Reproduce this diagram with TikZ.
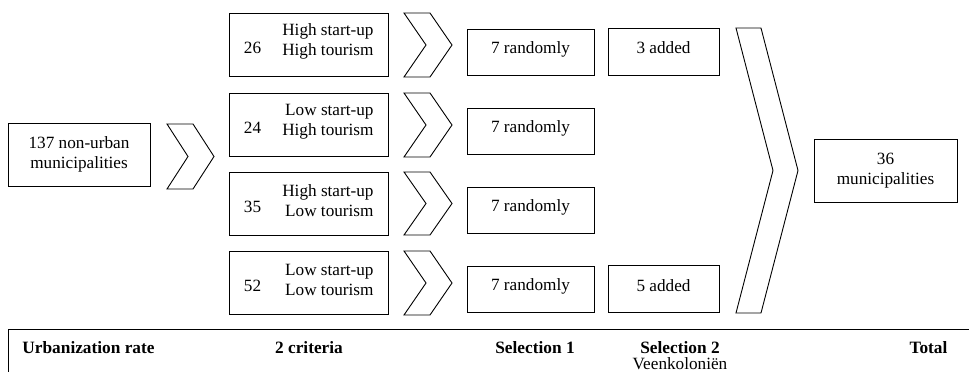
\documentclass[tikz,border=0pt]{standalone}
\usepackage{fontspec}
\setmainfont{Liberation Serif}
\newfontfamily\serifmain{Liberation Serif}
\newcommand\chevshape[5]{\draw[chev] (#1,#2) -- (#1+#4,#2) -- ({#1+#4+#5},{(#2+#3)/2}) -- (#1+#4,#3) -- (#1,#3) -- (#1+#5,{(#2+#3)/2}) -- cycle;}
\begin{document}
\begin{tikzpicture}[x=1pt,y=-1pt,line width=0.9pt,
  font=\serifmain\fontsize{17.2}{20}\selectfont,
  box/.style={draw,rectangle,inner sep=0pt},
  txt/.style={inner sep=0pt},
  lab/.style={inner sep=0pt,anchor=base,font=\serifmain\fontsize{17.3}{20}\selectfont\bfseries},
  chev/.style={draw,line join=miter}]
\useasboundingbox (0,0) rectangle (969,372);

% start box
\node[box,minimum width=142pt,minimum height=63pt,align=center] (start) at (79,154.5) {137 non-urban\\municipalities};
\chevshape{167}{124}{189}{26}{21}

% criteria boxes
\foreach \i/\yc/\n/\ta/\tb in {1/44.5/26/High start-up/High tourism,
                               2/124.5/24/Low start-up/High tourism,
                               3/203.5/35/High start-up/Low tourism,
                               4/282.5/52/Low start-up/Low tourism}{
  \node[box,minimum width=159pt,minimum height=63pt] (crit\i) at (308.5,\yc) {};
  \node[txt] (num\i) at (252.5,\yc+3) {\n};
  \node[txt,align=right,anchor=east] (cl\i) at (374,\yc-3) {\ta\\\tb};
}
\chevshape{404}{13}{77}{26}{22}
\chevshape{404}{93}{157}{26}{22}
\chevshape{404}{172}{235}{26}{22}
\chevshape{404}{251}{315}{26}{22}

% selection 1
\foreach \i/\yc in {1/52,2/131,3/210,4/289}{
  \node[box,minimum width=127pt,minimum height=46pt] (sel\i) at (530.5,\yc) {};
  \node[txt] (selt\i) at (530.5,\yc-3) {7 randomly};
}
% selection 2
\node[box,minimum width=111pt,minimum height=47pt] (add1) at (663.5,51.5) {};
\node[txt] (addt1) at (663.5,48) {3 added};
\node[box,minimum width=111pt,minimum height=47pt] (add4) at (663.5,289) {};
\node[txt] (addt4) at (663.5,285.5) {5 added};

% big chevron
\chevshape{736}{28}{313}{25}{37}

% total
\node[box,minimum width=143pt,minimum height=63pt,align=center] (total) at (885.5,170.5) {36\\municipalities};

% bottom header
\draw (8,374) -- (8,329) -- (971,329);
\node[lab,anchor=base west] (h1) at (22,353) {Urbanization rate};
\node[lab] (h2) at (309,353) {2 criteria};
\node[lab] (h3) at (535,353) {Selection 1};
\node[lab] (h4) at (680,353) {Selection 2};
\node[txt,anchor=base] (h4b) at (680,369) {Veenkoloniën};
\node[lab] (h5) at (928.5,353) {Total};
\end{tikzpicture}
\end{document}
